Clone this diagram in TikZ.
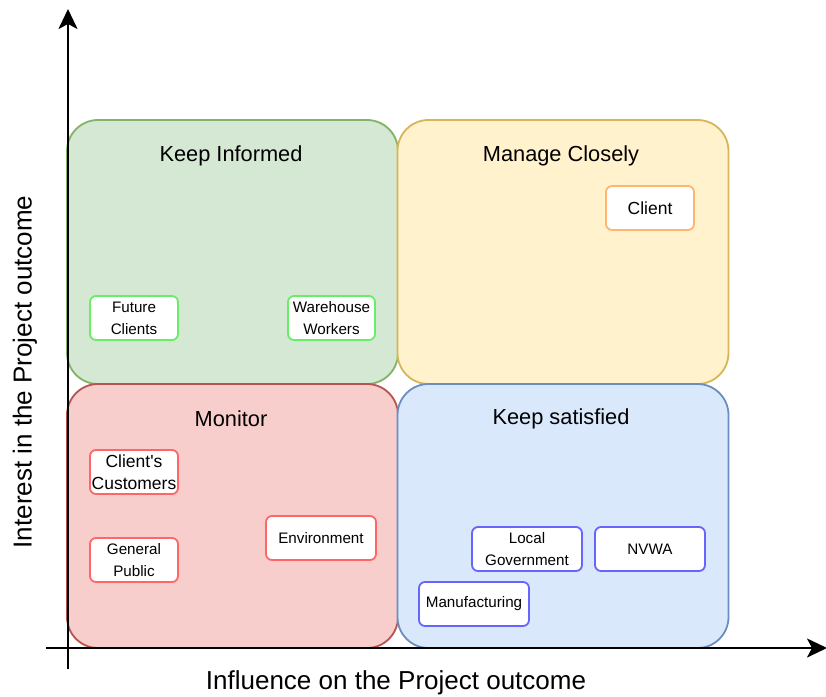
\documentclass[tikz,border=0pt]{standalone}
\usepackage{fontspec}
\setmainfont{Liberation Sans}
\usetikzlibrary{arrows.meta}

\definecolor{infofill}{HTML}{D5E8D4}\definecolor{infoline}{HTML}{82B366}
\definecolor{managefill}{HTML}{FFF2CC}\definecolor{manageline}{HTML}{D6B656}
\definecolor{monfill}{HTML}{F8CECC}\definecolor{monline}{HTML}{B85450}
\definecolor{satfill}{HTML}{DAE8FC}\definecolor{satline}{HTML}{6C8EBF}
\definecolor{greenbox}{HTML}{66EE66}
\definecolor{redbox}{HTML}{FF6666}
\definecolor{orangebox}{HTML}{FFB570}
\definecolor{bluebox}{HTML}{6666FF}

\begin{document}
\begin{tikzpicture}[x=1pt,y=-1pt,
  quadrant/.style={draw, line width=1.8pt, rounded corners=31pt, inner sep=0pt,
    minimum width=331pt, minimum height=264pt},
  qtitle/.style={font=\fontsize{21.8}{26}\selectfont, inner sep=0pt},
  stake/.style={draw, fill=white, line width=1.8pt, rounded corners=6pt, inner sep=0pt,
    align=center, font=\fontsize{15.2}{22}\selectfont},
  stakebig/.style={stake, font=\fontsize{17.5}{22}\selectfont},
  axis/.style={line width=2.4pt, -{Stealth[length=20pt,width=19pt,inset=5pt]}},
  axislabel/.style={font=\fontsize{26}{30}\selectfont, inner sep=0pt}]

\useasboundingbox (0,0) rectangle (826,696);

% four quadrants of the grid
\node[quadrant, fill=infofill, draw=infoline] (inf) at (232.5,252) {};
\node[quadrant, fill=managefill, draw=manageline] (man) at (563,252) {};
\node[quadrant, fill=monfill, draw=monline] (mon) at (232.5,516) {};
\node[quadrant, fill=satfill, draw=satline] (sat) at (563,516) {};

\node[qtitle] (tinf) at (231,156) {Keep Informed};
\node[qtitle] (tman) at (561,156) {Manage Closely};
\node[qtitle] (tmon) at (231,419) {Monitor};
\node[qtitle] (tsat) at (561,419) {Keep satisfied};

% stakeholders
\node[stake, draw=greenbox, minimum width=88pt, minimum height=44pt] (future) at (134,318) {Future\\Clients};
\node[stake, draw=greenbox, minimum width=87pt, minimum height=44pt] (workers) at (331.5,318) {Warehouse\\Workers};
\node[stakebig, draw=orangebox, minimum width=88pt, minimum height=44pt] (client) at (650,208) {Client};
\node[stakebig, draw=redbox, minimum width=88pt, minimum height=44pt] (customers) at (134,472) {Client\textquotesingle s\\Customers};
\node[stake, draw=redbox, minimum width=88pt, minimum height=44pt] (public) at (134,560) {General\\Public};
\node[stake, draw=redbox, minimum width=110pt, minimum height=44pt] (env) at (321,538) {Environment};
\node[stake, draw=bluebox, minimum width=110pt, minimum height=44pt] (gov) at (527,549) {Local\\Government};
\node[stake, draw=bluebox, minimum width=110pt, minimum height=44pt] (nvwa) at (650,549) {NVWA};
\node[stake, draw=bluebox, minimum width=110pt, minimum height=44pt] (manu) at (474,604) {Manufacturing};

% axes
\coordinate (ybot) at (68,669);
\coordinate (ytop) at (68,9);
\coordinate (xleft) at (46,648);
\coordinate (xright) at (827,648);
\draw[axis] (ybot) -- (ytop);
\draw[axis] (xleft) -- (xright);

\node[axislabel] (xlab) at (396,683) {Influence on the Project outcome};
\node[axislabel, rotate=90] (ylab) at (25,372) {Interest in the Project outcome};
\end{tikzpicture}
\end{document}
